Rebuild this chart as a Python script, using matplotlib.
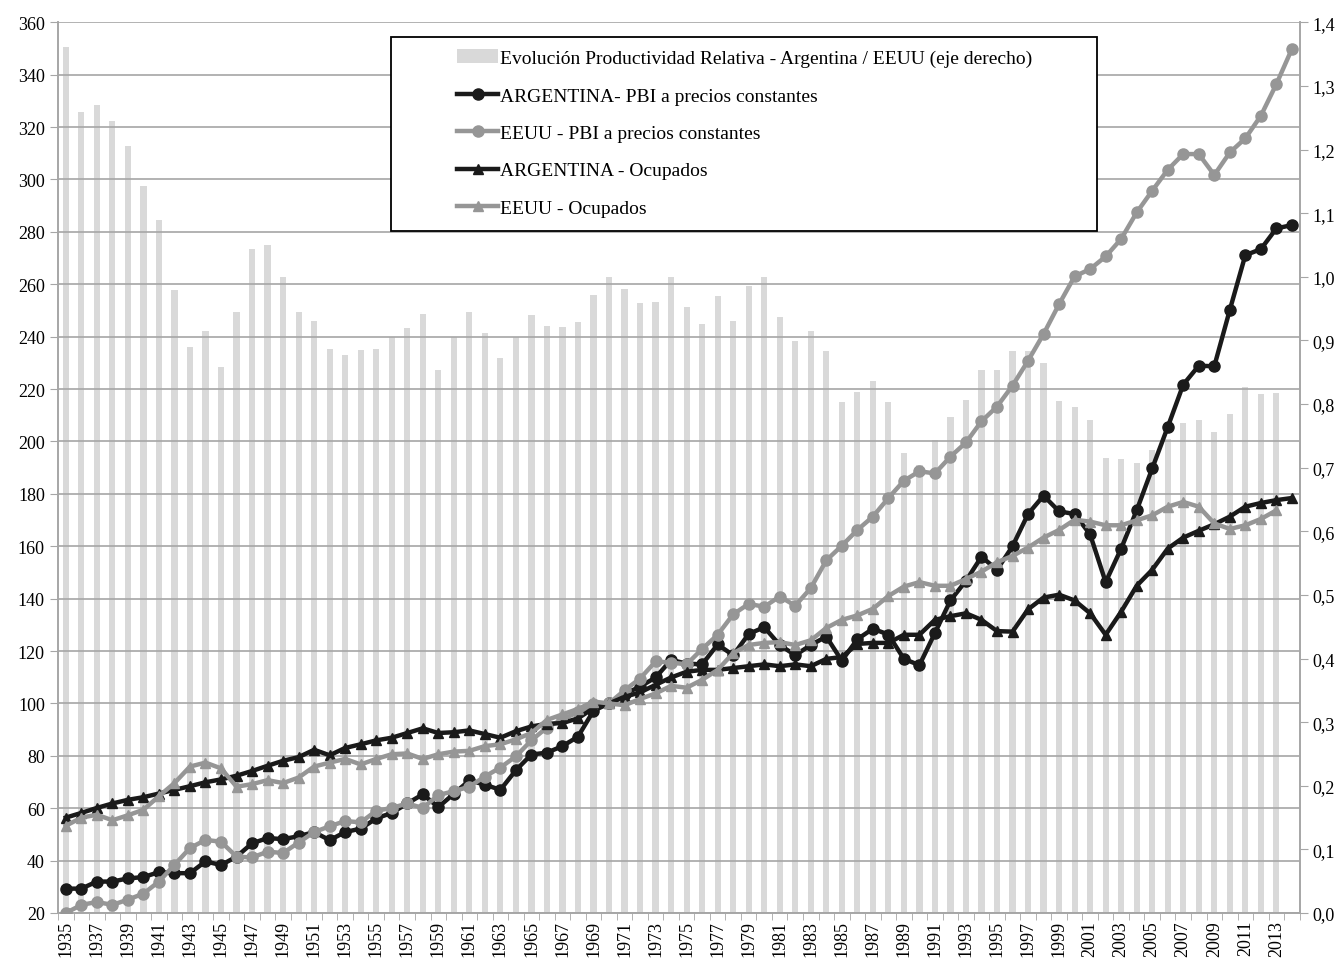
import numpy as np
import matplotlib
matplotlib.use("Agg")
import matplotlib.pyplot as plt
from matplotlib.patches import Rectangle
from matplotlib.ticker import FuncFormatter, FixedLocator

plt.rcParams['font.family'] = ['Liberation Serif', 'DejaVu Serif']

years = list(range(1935, 2015))

# Productividad relativa Argentina / EEUU (eje derecho), 1935-2013
prod_rel = [1.361, 1.259, 1.270, 1.245, 1.206,
            1.143, 1.090, 0.979, 0.889, 0.915, 0.858, 0.945, 1.043, 1.050, 0.999,
            0.944, 0.930, 0.886, 0.877, 0.885, 0.887, 0.906, 0.920, 0.942, 0.853,
            0.906, 0.945, 0.911, 0.873, 0.906, 0.940, 0.923, 0.921, 0.929, 0.972,
            1.000, 0.981, 0.958, 0.960, 1.000, 0.952, 0.926, 0.969, 0.930, 0.986,
            1.000, 0.937, 0.899, 0.914, 0.883, 0.803, 0.819, 0.836, 0.803, 0.723,
            0.704, 0.744, 0.779, 0.806, 0.853, 0.853, 0.883, 0.883, 0.865, 0.805,
            0.796, 0.775, 0.715, 0.714, 0.708, 0.728, 0.745, 0.770, 0.775, 0.756,
            0.785, 0.827, 0.816, 0.818]

arg_pbi = [29.3, 29.3, 32.0, 32.0, 33.2,
           33.7, 35.6, 35.2, 35.2, 39.7, 38.3, 41.5, 46.6, 48.6, 48.2,
           49.3, 50.9, 47.8, 50.9, 52.2, 56.1, 58.2, 61.8, 65.3, 60.4,
           65.5, 70.6, 69.0, 67.0, 74.5, 80.5, 81.2, 83.7, 87.3, 97.2,
           100.0, 103.6, 106.4, 109.9, 116.6, 115.2, 114.9, 122.5, 118.4, 126.5,
           129.1, 122.3, 118.4, 122.3, 125.5, 116.3, 124.5, 128.5, 126.3, 117.0,
           114.6, 126.9, 139.3, 146.8, 156.0, 151.0, 160.0, 172.3, 179.3, 173.3,
           172.3, 164.5, 146.3, 159.1, 173.7, 189.7, 205.5, 221.7, 228.9, 228.7,
           250.2, 271.1, 273.4, 281.3, 282.6]

eeuu_pbi = [20.0, 23.1, 24.2, 23.1, 25.1,
            27.4, 32.0, 38.4, 44.8, 47.9, 47.2, 41.5, 41.2, 43.4, 42.9,
            46.9, 50.9, 53.1, 55.1, 54.6, 59.0, 60.1, 61.8, 60.1, 65.0,
            66.5, 68.2, 72.1, 75.5, 79.8, 85.9, 90.8, 93.9, 96.7, 99.6,
            100.0, 105.0, 109.5, 116.0, 115.6, 114.9, 120.8, 126.2, 134.0, 138.0,
            136.9, 140.8, 137.3, 144.0, 154.6, 160.2, 166.2, 171.3, 178.4, 185.0,
            188.6, 187.8, 194.2, 199.6, 207.7, 213.3, 221.3, 230.8, 241.0, 252.4,
            263.0, 265.8, 270.6, 277.3, 287.4, 295.7, 303.7, 309.7, 309.7, 301.7,
            310.3, 315.7, 324.3, 336.4, 349.8]

arg_ocup = [56.4, 58.2, 60.1, 61.8, 63.2,
            64.2, 65.6, 67.0, 68.4, 69.9, 71.0, 72.4, 74.2, 76.2, 78.1,
            79.5, 82.3, 80.2, 83.0, 84.4, 85.9, 86.9, 88.7, 90.5, 88.7,
            89.0, 89.7, 88.3, 86.9, 89.4, 91.2, 92.2, 92.5, 94.3, 98.2,
            100.0, 102.5, 104.2, 107.1, 109.9, 112.1, 112.8, 112.8, 113.5, 114.2,
            114.9, 114.2, 114.9, 114.2, 117.0, 117.7, 122.7, 123.1, 123.1, 126.2,
            126.2, 131.9, 133.3, 134.4, 131.9, 127.6, 127.4, 135.9, 140.4, 141.5,
            139.3, 134.4, 126.2, 135.0, 144.9, 151.0, 159.1, 163.3, 165.9, 168.4,
            171.3, 175.1, 176.5, 177.6, 178.4]

# 1935-2013
eeuu_ocup = [53.3, 56.4, 57.5, 55.4, 57.3,
             59.4, 64.6, 69.6, 75.9, 77.4, 75.2, 68.2, 69.2, 70.7, 69.6,
             71.7, 75.9, 77.4, 78.8, 76.7, 78.8, 80.6, 80.9, 78.8, 80.6,
             81.6, 81.9, 83.7, 84.4, 86.3, 88.7, 93.7, 95.8, 97.9, 100.7,
             100.0, 99.3, 101.7, 103.8, 106.7, 106.0, 109.0, 112.8, 119.2, 122.3,
             123.1, 123.4, 122.3, 124.1, 128.8, 131.9, 133.6, 136.1, 141.0, 144.6,
             146.3, 144.9, 144.9, 147.5, 150.3, 153.9, 156.3, 159.5, 163.3, 166.2,
             170.1, 169.4, 168.0, 168.0, 169.9, 171.8, 175.1, 176.9, 175.1, 168.7,
             166.6, 168.0, 170.4, 173.7]

BLACK = '#1a1a1a'
GRAY = '#969696'
BAR = '#d9d9d9'
GRID = '#a6a6a6'

fig = plt.figure(figsize=(13.44, 9.62), dpi=100)
ax = fig.add_axes([0.0432, 0.0499, 0.9238, 0.9259])
ax2 = ax.twinx()
ax.set_zorder(ax2.get_zorder() + 1)
ax.patch.set_visible(False)

x = np.arange(len(years))

bars = ax2.bar(x[:len(prod_rel)], prod_rel, width=0.4, color=BAR, zorder=1)
ax2.set_ylim(0, 1.4)
ax2.set_yticks(np.arange(0, 1.41, 0.1))
ax2.yaxis.set_major_formatter(FuncFormatter(lambda v, p: f"{v:.1f}".replace('.', ',')))

l1, = ax.plot(x, arg_pbi, color=BLACK, lw=3.2, marker='o', ms=8, zorder=3)
l2, = ax.plot(x, eeuu_pbi, color=GRAY, lw=3.2, marker='o', ms=8, zorder=3)
l3, = ax.plot(x, arg_ocup, color=BLACK, lw=3.2, marker='^', ms=7.5, zorder=3)
l4, = ax.plot(x[:len(eeuu_ocup)], eeuu_ocup, color=GRAY, lw=3.2, marker='^', ms=7.5, zorder=3)

ax.set_ylim(20, 360)
ax.set_yticks(np.arange(20, 361, 20))
ax.set_xlim(-0.5, len(years) - 0.5)
ax.yaxis.grid(True, color=GRID, lw=1.2)
ax.set_axisbelow(True)

# x ticks: labels every two years, tick marks at category boundaries
ax.set_xticks(x[::2])
ax.set_xticklabels([str(y) for y in years[::2]], rotation=90, fontsize=13)
ax.tick_params(axis='x', which='major', length=0, pad=5)
ax.xaxis.set_minor_locator(FixedLocator(np.arange(-0.5, len(years), 1)))
ax.tick_params(axis='x', which='minor', length=5, color=GRID)
ax.tick_params(axis='y', labelsize=13, length=6, color=GRID)
ax2.tick_params(axis='y', labelsize=13, length=6, color=GRID)

for a in (ax, ax2):
    for s in a.spines.values():
        s.set_color(GRID)
        s.set_linewidth(1.2)
    a.spines['top'].set_visible(False)

# legend with a manual frame
frame = Rectangle((0.268, 0.766), 0.569, 0.217, transform=ax.transAxes,
                  facecolor='white', edgecolor='black', lw=1.3, zorder=5)
ax.add_patch(frame)
leg = ax.legend([bars, l1, l2, l3, l4],
                ['Evolución Productividad Relativa - Argentina / EEUU (eje derecho)',
                 'ARGENTINA- PBI a precios constantes',
                 'EEUU - PBI a precios constantes',
                 'ARGENTINA - Ocupados',
                 'EEUU - Ocupados'],
                loc='upper left', bbox_to_anchor=(0.309, 0.987), frameon=False,
                fontsize=14, handlelength=2.1, handletextpad=0.12,
                labelspacing=1.02, borderpad=0.3)
leg.set_zorder(6)

fig.savefig('out.png', dpi=100)
